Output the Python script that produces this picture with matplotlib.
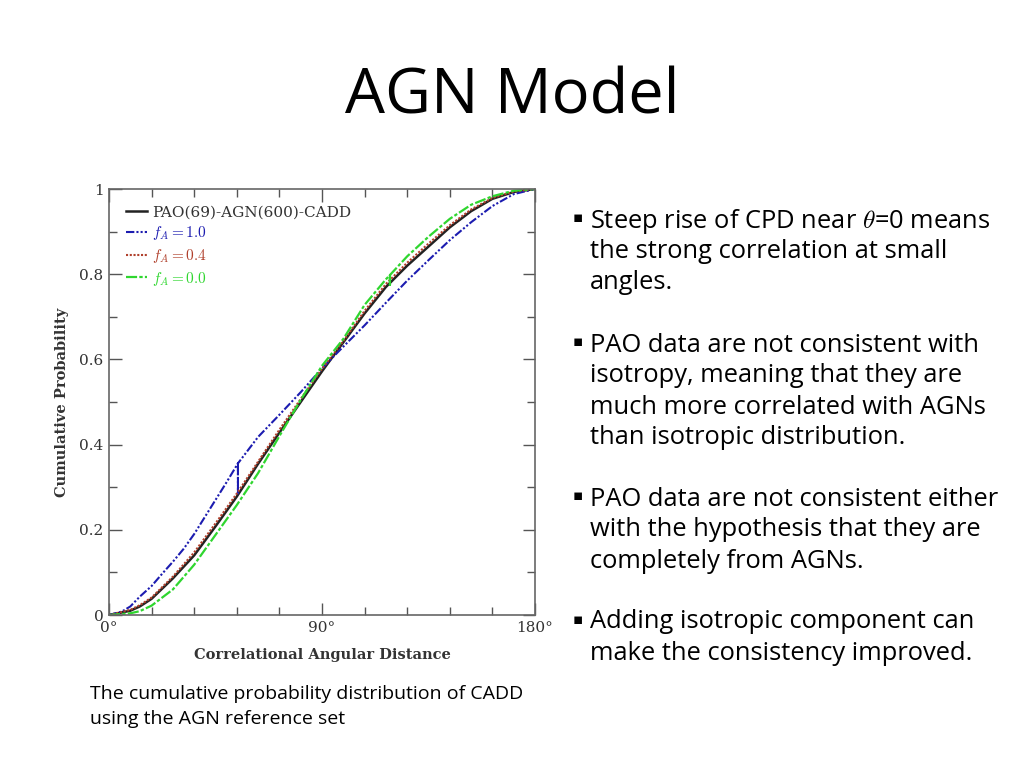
import matplotlib
matplotlib.use('Agg')
import matplotlib.pyplot as plt
from matplotlib.ticker import MultipleLocator, FixedLocator

plt.rcParams['mathtext.fontset'] = 'cm'

# -----------------------------
# Values
# -----------------------------
angle = [0, 9, 13, 18, 27, 36, 45, 54, 63, 72, 81, 90, 99, 108, 117, 126, 135, 144,
         153, 162, 171, 180]

pao_cadd = [0, 0.01, 0.02, 0.038, 0.086, 0.14, 0.208, 0.278, 0.355, 0.428, 0.5, 0.572,
            0.64, 0.708, 0.77, 0.82, 0.865, 0.91, 0.948, 0.977, 0.993, 1.0]

fa04 = [0, 0.012, 0.023, 0.041, 0.09, 0.147, 0.215, 0.285, 0.36, 0.435, 0.507, 0.578,
        0.643, 0.714, 0.777, 0.827, 0.872, 0.915, 0.952, 0.979, 0.994, 1.0]

# f_A = 1.0 has a small spike down to the data curve near 54.5 deg
angle_fa10 = [0, 5.4, 9, 13, 18, 22.5, 27, 31.5, 36, 40.5, 45, 49.5, 54.5, 54.5, 54.5,
              63, 72, 81, 90, 99, 108, 117, 126, 135, 144, 153, 162, 171, 180]
fa10 = [0, 0.008, 0.02, 0.043, 0.068, 0.097, 0.125, 0.155, 0.19, 0.23, 0.27, 0.31,
        0.356, 0.282, 0.356, 0.418, 0.47, 0.523, 0.579, 0.63, 0.68, 0.733, 0.785,
        0.833, 0.88, 0.922, 0.96, 0.988, 1.0]

# f_A = 0.0 has a small notch near 118.7 deg
angle_fa00 = [0, 9, 13, 18, 27, 36, 40.5, 45, 54, 63, 72, 81, 90, 99, 108, 117, 118.7,
              118.7, 118.7, 126, 135, 144, 153, 162, 171, 180]
fa00 = [0, 0.004, 0.009, 0.022, 0.06, 0.118, 0.153, 0.188, 0.258, 0.333, 0.42, 0.505,
        0.585, 0.648, 0.728, 0.788, 0.798, 0.775, 0.798, 0.842, 0.888, 0.93, 0.963,
        0.983, 0.996, 1.0]

legend_labels = ['PAO(69)-AGN(600)-CADD', r'$f_A = 1.0$', r'$f_A = 0.4$', r'$f_A = 0.0$']
x_tick_labels = ['0°', '90°', '180°']
y_tick_values = [0, 0.2, 0.4, 0.6, 0.8, 1]
y_tick_labels = ['0', '0.2', '0.4', '0.6', '0.8', '1']

bullets = [
    ['Steep rise of CPD near $\\theta$=0 means', 'the strong correlation at small', 'angles.'],
    ['PAO data are not consistent with', 'isotropy, meaning that they are',
     'much more correlated with AGNs', 'than isotropic distribution.'],
    ['PAO data are not consistent either', 'with the hypothesis that they are',
     'completely from AGNs.'],
    ['Adding isotropic component can', 'make the consistency improved.'],
]
caption = ['The cumulative probability distribution of CADD', 'using the AGN reference set']

BLUE = '#1c1cb0'
RED = '#b0402c'
GREEN = '#2fd62f'

fig = plt.figure(figsize=(10.24, 7.68), dpi=100)
fig.patch.set_facecolor('white')

fig.text(0.5, 0.873, 'AGN Model', ha='center', va='center', fontsize=45.5,
         family='Open Sans', color='black')

ax = fig.add_axes([0.1064, 0.1992, 0.4161, 0.5547])
ax.plot(angle, pao_cadd, color='#222222', lw=1.8, ls='-', label=legend_labels[0])
ax.plot(angle_fa10, fa10, color=BLUE, lw=1.5, ls=(0, (4, 1, 1, 1, 1, 1)), label=legend_labels[1])
ax.plot(angle, fa04, color=RED, lw=1.5, ls=(0, (1, 0.8)), label=legend_labels[2])
ax.plot(angle_fa00, fa00, color=GREEN, lw=1.6, ls=(0, (5, 1, 1.5, 1)), label=legend_labels[3])

ax.set_xlim(0, 180)
ax.set_ylim(0, 1)
ax.xaxis.set_major_locator(FixedLocator([0, 90, 180]))
ax.set_xticklabels(x_tick_labels)
ax.xaxis.set_minor_locator(MultipleLocator(18))
ax.yaxis.set_major_locator(FixedLocator(y_tick_values))
ax.set_yticklabels(y_tick_labels)
ax.yaxis.set_minor_locator(MultipleLocator(0.1))
ax.tick_params(which='both', direction='in', top=True, right=True, colors='#555555',
               labelcolor='#333333', labelsize=11, width=1)
ax.tick_params(which='major', length=9)
ax.tick_params(which='minor', length=6)
for lbl in ax.get_xticklabels() + ax.get_yticklabels():
    lbl.set_family('DejaVu Serif')
ax.tick_params(axis='x', pad=4)
ax.tick_params(axis='y', pad=4)
for sp in ax.spines.values():
    sp.set_color('#666666')
    sp.set_linewidth(1.2)

ax.set_xlabel('Correlational Angular Distance', family='DejaVu Serif', fontweight='bold',
              fontsize=10.5, color='#333333', labelpad=10)
ax.set_ylabel('Cumulative Probability', family='DejaVu Serif', fontweight='bold',
              fontsize=10.5, color='#333333', labelpad=7)

leg = ax.legend(loc='upper left', frameon=False, fontsize=11, handlelength=1.4,
                handletextpad=0.35, labelspacing=0.3, borderaxespad=0.0,
                bbox_to_anchor=(0.025, 0.975))
for txt, col in zip(leg.get_texts(), ['#333333', BLUE, RED, GREEN]):
    txt.set_color(col)
    txt.set_family('DejaVu Serif')

# right-hand bullet text
line_h = 31
y_starts = [221, 345, 499, 622]
for lines, y0 in zip(bullets, y_starts):
    fig.text(573 / 1024, 1 - (y0 - 3) / 768, '▪', ha='left', va='center', fontsize=11,
             family='DejaVu Sans', color='black')
    for i, line in enumerate(lines):
        fig.text(590 / 1024, 1 - (y0 + i * line_h) / 768, line, ha='left', va='center',
                 fontsize=18.4, family='Open Sans', color='black')

for i, line in enumerate(caption):
    fig.text(90 / 1024, 1 - (694 + i * 25) / 768, line, ha='left', va='center',
             fontsize=14, family='Open Sans', color='black')

fig.savefig('out.png', dpi=100, facecolor='white')
